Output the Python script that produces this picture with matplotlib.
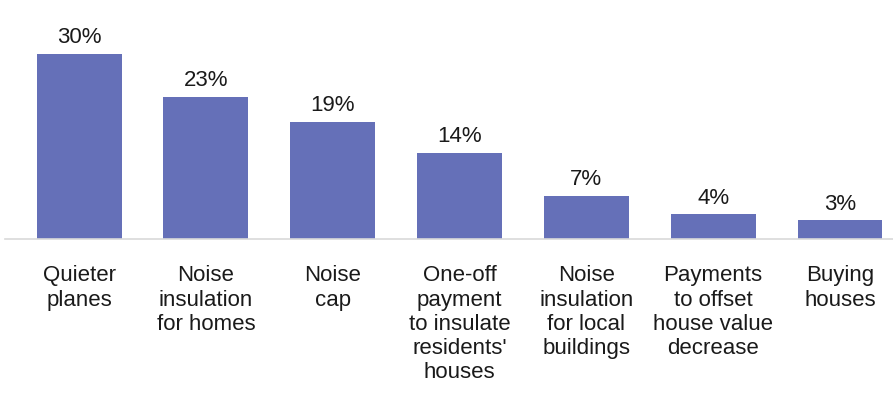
import numpy as np
from matplotlib import pyplot as plt

categories = ["Quieter\nplanes", "Noise\ninsulation\nfor homes", "Noise\ncap",
              "One-off\npayment\nto insulate\nresidents'\nhouses",
              "Noise\ninsulation\nfor local\nbuildings",
              "Payments\nto offset\nhouse value\ndecrease", "Buying\nhouses"]
values = [30, 23, 19, 14, 7, 4, 3]
labels = ["30%", "23%", "19%", "14%", "7%", "4%", "3%"]

plt.rcParams['font.family'] = ['Liberation Sans', 'DejaVu Sans']

fig = plt.figure(figsize=(8.93, 4.19), dpi=100)
ax = fig.add_axes([5 / 893, 0.4296, 888 / 893, 1 - 0.4296])

x_pos = np.arange(len(categories))
ax.bar(x_pos, values, width=0.67, color="#6570b8")
for x, v, lab in zip(x_pos, values, labels):
    ax.annotate(lab, (x, v), xytext=(0, 4), textcoords='offset points',
                ha='center', va='bottom', fontsize=16, color='#1a1a1a')

ax.set_xlim(-0.584, 6.418)
ax.set_ylim(0, 38.7)
ax.set_xticks(x_pos)
ax.set_xticklabels(categories, fontsize=16, color='#1a1a1a', linespacing=1.2)
ax.tick_params(axis='x', length=0, pad=19)
ax.set_yticks([])
for s in ['top', 'left', 'right']:
    ax.spines[s].set_visible(False)
ax.spines['bottom'].set_color('#d9d9d9')
ax.spines['bottom'].set_linewidth(1.2)

plt.savefig('out.png', dpi=100)
